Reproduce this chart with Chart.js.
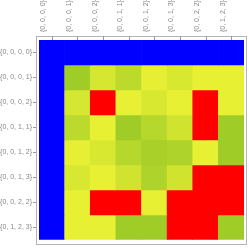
<!DOCTYPE html>
<html lang="en">
<head>
<meta charset="UTF-8">
<title>Matrix Plot</title>
<script src="https://cdn.jsdelivr.net/npm/chart.js"></script>
<style>
    body { margin: 0; background: #fff; }
    #wrap { position: relative; width: 249px; height: 251px; }
</style>
</head>
<body>
<div id="wrap"><canvas id="matrix"></canvas></div>
<script>
    const labels = ['{0, 0, 0, 0}', '{0, 0, 0, 1}', '{0, 0, 0, 2}', '{0, 0, 1, 1}',
                    '{0, 0, 1, 2}', '{0, 0, 1, 3}', '{0, 0, 2, 2}', '{0, 1, 2, 3}'];

    // cell values: -1 = blue, 2 = red, 0..1 = yellow -> green
    const row0 = [-1, -1, -1, -1, -1, -1, -1, -1];
    const row1 = [-1, 1.00, 0.26, 0.61, 0.03, 0.22, 0, 0];
    const row2 = [-1, 0.26, 2, 0, 0.22, 0, 2, 0];
    const row3 = [-1, 0.61, 0, 1.00, 0.70, 0.33, 2, 1.00];
    const row4 = [-1, 0.03, 0.22, 0.70, 0.89, 0.81, 0, 1.00];
    const row5 = [-1, 0.22, 0, 0.33, 0.81, 0.33, 2, 2];
    const row6 = [-1, 0, 2, 2, 0, 2, 2, 2];
    const row7 = [-1, 0, 0, 1.00, 1.00, 2, 2, 1.00];
    const rows = [row0, row1, row2, row3, row4, row5, row6, row7];

    const yellow = [232, 240, 51];
    const green = [160, 204, 40];

    function cellColor(v) {
        if (v < 0) return '#0000ff';
        if (v > 1) return '#ff0000';
        const c = yellow.map((y, k) => Math.round(y + (green[k] - y) * v));
        return 'rgb(' + c.join(',') + ')';
    }

    // frame + tick marks, Mathematica style
    const framePlugin = {
        id: 'frame',
        afterDraw(chart) {
            const ctx = chart.ctx;
            const a = chart.chartArea;
            const l = Math.round(a.left) - 3, t = Math.round(a.top) - 4;
            const r = Math.round(a.right) + 2, b = Math.round(a.bottom) + 4;
            ctx.save();
            ctx.strokeStyle = '#b4b4b4';
            ctx.lineWidth = 1;
            ctx.strokeRect(l + 0.5, t + 0.5, r - l, b - t);
            ctx.strokeStyle = '#999';
            ctx.beginPath();
            const ys = chart.scales.y;
            ys.ticks.forEach((tk, i) => {
                const py = Math.round(ys.getPixelForTick(i)) + 0.5;
                ctx.moveTo(l - 3, py);
                ctx.lineTo(l, py);
            });
            const xs = chart.scales.x;
            xs.ticks.forEach((tk, i) => {
                const px = Math.round(xs.getPixelForTick(i)) + 0.5;
                ctx.moveTo(px, t);
                ctx.lineTo(px, t + 4);
            });
            ctx.stroke();
            ctx.restore();
        }
    };

    const chart = new Chart(document.getElementById('matrix'), {
        type: 'bar',
        data: {
            labels: labels,
            datasets: rows.map(row => ({
                data: row.map(() => 1),
                backgroundColor: row.map(cellColor),
                borderWidth: 0,
                barPercentage: 1,
                categoryPercentage: 1
            }))
        },
        options: {
            responsive: true,
            maintainAspectRatio: false,
            animation: false,
            layout: { padding: { top: 0, left: 0, right: 5, bottom: 6 } },
            plugins: { legend: { display: false }, tooltip: { enabled: false } },
            scales: {
                x: {
                    position: 'top',
                    stacked: true,
                    grid: { display: false, drawTicks: false },
                    border: { display: false },
                    ticks: {
                        autoSkip: false,
                        minRotation: 90,
                        maxRotation: 90,
                        padding: 8,
                        color: '#888',
                        font: { family: 'Liberation Sans', size: 7 }
                    },
                    afterFit(scale) { scale.height = 40; }
                },
                y: {
                    stacked: true,
                    min: 0,
                    max: 8,
                    reverse: true,
                    grid: { display: false, drawTicks: false },
                    border: { display: false },
                    afterBuildTicks(scale) {
                        scale.ticks = labels.map((_, i) => ({ value: i + 0.5 }));
                    },
                    ticks: {
                        padding: 7,
                        color: '#888',
                        font: { family: 'Liberation Sans', size: 7 },
                        callback: (value, index) => labels[index]
                    },
                    afterFit(scale) { scale.width = 39; }
                }
            }
        },
        plugins: [framePlugin]
    });
</script>
</body>
</html>
